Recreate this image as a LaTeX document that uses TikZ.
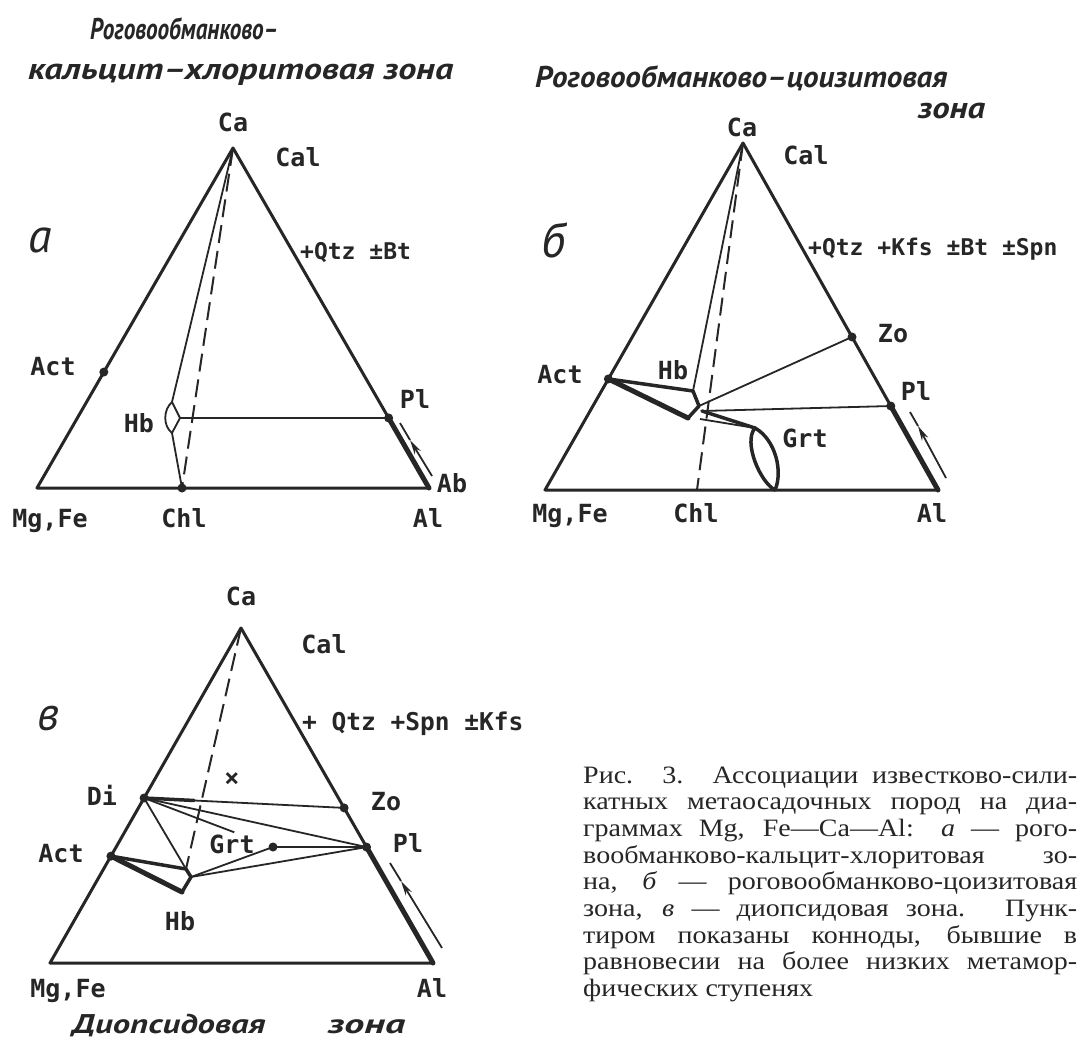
\documentclass[tikz,border=0pt]{standalone}
\usepackage{fontspec}
\setmainfont{Liberation Serif}
\newfontfamily\labfont{DejaVu Sans Mono}
\newfontfamily\titfont{PT Sans}
\newfontfamily\capfont{Liberation Serif}[FakeStretch=1.12]
\usepackage{graphicx}
\usetikzlibrary{calc,arrows.meta}
\definecolor{ink}{HTML}{262626}
\newcommand{\hfit}[2]{\resizebox{#1}{\height}{#2}}
\begin{document}
\begin{tikzpicture}[x=1pt,y=-1pt,color=ink,
  tri/.style={line width=3pt,line join=round},
  tie/.style={line width=1.8pt},
  bold/.style={line width=5pt,line cap=round,line join=round},
  mid/.style={line width=3.5pt,line cap=round,line join=round},
  dashline/.style={line width=2pt,dash pattern=on 18pt off 8pt},
  lab/.style={font=\labfont\bfseries\fontsize{25}{25}\selectfont,inner sep=0pt,anchor=base},
  note/.style={font=\labfont\bfseries\fontsize{23}{23}\selectfont,inner sep=0pt,anchor=base west},
  letter/.style={font=\titfont\itshape\fontsize{48}{48}\selectfont,inner sep=0pt},
  tit/.style={font=\titfont\bfseries\itshape\fontsize{30}{30}\selectfont,inner sep=0pt,anchor=base west},
  titc/.style={font=\titfont\bfseries\itshape\fontsize{27}{27}\selectfont,inner sep=0pt,anchor=base west},
  capline/.style={font=\capfont\fontsize{25}{25}\selectfont,inner sep=0pt,anchor=base west},
  arr/.style={line width=1.8pt,-{Stealth[length=15pt,width=7pt]}}]
\fill[white] (0,0) rectangle (1080,1043);
\useasboundingbox (0,0) rectangle (1080,1043);

% ================= diagram a =================
\coordinate (aCa) at (233,148);
\coordinate (aMg) at (37,488);
\coordinate (aAl) at (429,488);
\coordinate (aAct) at ($(aMg)!0.341!(aCa)$);
\coordinate (aPl) at ($(aAl)!0.206!(aCa)$);
\coordinate (aChl) at (182,488);
\coordinate (aHbT) at (172,402);
\coordinate (aHbB) at (172,433);
\coordinate (aHbR) at (180,418);
\coordinate (aArB) at (432,476);
\coordinate (aArM) at (410,440);
\coordinate (aArT) at (400,423);
\draw[tri] (aMg) -- (aCa) -- (aAl) -- cycle;
\draw[bold] (aPl) -- (aAl);
\draw[dashline] (aCa) -- (aChl);
\draw[tie] (aCa) -- (aHbT);
\draw[tie] (aHbB) -- (aChl);
\draw[tie] (aHbT) .. controls (163,410) and (163,426) .. (aHbB);
\draw[tie,line join=round] (aHbT) -- (aHbR) -- (aHbB);
\draw[tie] (aHbR) -- (aPl);
\draw[arr] (aArB) -- (aArM);
\draw[tie] (aArM) -- (aArT);
\foreach \p in {aAct,aPl,aChl} \fill (\p) circle (4.5pt);
\node[lab] (aLCa) at (233,132) {Ca};
\node[lab] (aLCal) at (298,167) {Cal};
\node[note] (aLadd) at (300,260) {+Qtz ±Bt};
\node[lab] (aLAct) at (53,375) {Act};
\node[lab] (aLPl) at (415,408) {Pl};
\node[lab] (aLHb) at (139,432) {Hb};
\node[lab] (aLAb) at (452,492) {Ab};
\node[lab] (aLMg) at (50,527) {Mg,Fe};
\node[lab] (aLChl) at (184,527) {Chl};
\node[lab] (aLAl) at (428,527) {Al};
\node[letter] (aLet) at (40,240) {а};
\node[tit] (aT1) at (90,40) {\hfit{188pt}{Роговообманково–}};
\node[tit] (aT2) at (28,80) {\hfit{425pt}{кальцит–хлоритовая зона}};

% ================= diagram b =================
\coordinate (bCa) at (743,143);
\coordinate (bMg) at (545,490);
\coordinate (bAl) at (938,490);
\coordinate (bAct) at ($(bMg)!0.32!(bCa)$);
\coordinate (bZo) at ($(bAl)!0.441!(bCa)$);
\coordinate (bPl) at ($(bAl)!0.242!(bCa)$);
\coordinate (bChl) at (697,490);
\coordinate (bHa) at (693,391);
\coordinate (bHb) at (699,406);
\coordinate (bHc) at (688,418);
\coordinate (bHd) at (702,411);
\coordinate (bHe) at (700,419);
\coordinate (bGT) at (755,428);
\coordinate (bGB) at (775,490);
\coordinate (bArB) at (946,478);
\coordinate (bArM) at (918,426);
\coordinate (bArT) at (910,412);
\draw[tri] (bMg) -- (bCa) -- (bAl) -- cycle;
\draw[bold] (bPl) -- (bAl);
\draw[dashline] (bCa) -- (bChl);
\draw[tie] (bCa) -- (bHa);
\draw[tie] (bHb) -- (bZo);
\draw[tie] (bHd) -- (bPl);
\draw[mid] (bHd) -- (bGT);
\draw[tie] (bHe) -- (bGT);
\draw[mid] (bAct) -- (bHa) -- (bHb) -- (bHc) -- cycle;
\draw[bold] (bAct) -- (bHc);
\draw[mid] (bGT) .. controls (743,442) and (760,482) .. (bGB);
\draw[mid] (bGT) .. controls (776,440) and (783,472) .. (bGB);
\draw[arr] (bArB) -- (bArM);
\draw[tie] (bArM) -- (bArT);
\foreach \p in {bAct,bZo,bPl} \fill (\p) circle (4.5pt);
\node[lab] (bLCa) at (742,137) {Ca};
\node[lab] (bLCal) at (806,165) {Cal};
\node[note] (bLadd) at (808,256) {+Qtz +Kfs ±Bt ±Spn};
\node[lab] (bLZo) at (893,343) {Zo};
\node[lab] (bLPl) at (916,400) {Pl};
\node[lab] (bLAct) at (560,383) {Act};
\node[lab] (bLHb) at (673,380) {Hb};
\node[lab] (bLGrt) at (805,447) {Grt};
\node[lab] (bLMg) at (570,522) {Mg,Fe};
\node[lab] (bLChl) at (696,522) {Chl};
\node[lab] (bLAl) at (932,522) {Al};
\node[letter] (bLet) at (553,240) {б};
\node[tit] (bT1) at (535,88) {\hfit{412pt}{Роговообманково–цоизитовая}};
\node[tit] (bT2) at (918,119) {\hfit{67pt}{зона}};

% ================= diagram c =================
\coordinate (cCa) at (241,628);
\coordinate (cMg) at (50,963);
\coordinate (cAl) at (433,963);
\coordinate (cDi) at ($(cMg)!0.4925!(cCa)$);
\coordinate (cAct) at ($(cMg)!0.319!(cCa)$);
\coordinate (cZo) at ($(cAl)!0.463!(cCa)$);
\coordinate (cPl) at ($(cAl)!0.346!(cCa)$);
\coordinate (cGrt) at (273,847);
\coordinate (cHa) at (186,869);
\coordinate (cHb) at (191,877);
\coordinate (cHc) at (182,892);
\coordinate (cDG) at ($(cDi)!0.7!(cGrt)$);
\coordinate (cArB) at (442,948);
\coordinate (cArM) at (401,881);
\coordinate (cArT) at (390,863);
\draw[tri] (cMg) -- (cCa) -- (cAl) -- cycle;
\draw[bold] (cPl) -- (cAl);
\draw[dashline] (cCa) -- (cHa);
\draw[mid] (cDi) -- ($(cDi)!0.25!(cZo)$);
\draw[tie] (cDi) -- (cZo);
\draw[tie] (cDi) -- (cPl);
\draw[tie] (cDi) -- (cDG);
\draw[tie] (cDi) -- (cHa);
\draw[tie] (cHb) -- (cGrt);
\draw[tie] (cHb) -- (cPl);
\draw[tie] (cGrt) -- (cPl);
\draw[mid] (cAct) -- (cHa) -- (cHb) -- (cHc);
\draw[bold] (cAct) -- (cHc);
\draw[arr] (cArB) -- (cArM);
\draw[tie] (cArM) -- (cArT);
\foreach \p in {cDi,cAct,cZo,cPl,cGrt} \fill (\p) circle (4.5pt);
\node[lab] (cLCa) at (241,605) {Ca};
\node[lab] (cLCal) at (324,653) {Cal};
\node[note,font=\labfont\bfseries\fontsize{24.5}{25}\selectfont] (cLadd) at (302,730) {+ Qtz +Spn ±Kfs};
\node[lab] (cLx) at (232,786) {×};
\node[lab] (cLDi) at (102,805) {Di};
\node[lab] (cLZo) at (386,810) {Zo};
\node[lab] (cLPl) at (408,852) {Pl};
\node[lab] (cLAct) at (61,862) {Act};
\node[lab] (cLGrt) at (232,853) {Grt};
\node[lab] (cLHb) at (180,930) {Hb};
\node[lab] (cLMg) at (68,997) {Mg,Fe};
\node[lab] (cLAl) at (432,997) {Al};
\node[letter] (cLet) at (48,718) {в};
\node[titc] (cT1) at (72,1033) {\hfit{193pt}{Диопсидовая}};
\node[titc] (cT2) at (328,1033) {\hfit{77pt}{зона}};

% ================= caption =================
\node[capline] (cap1) at (583,783.0) {\makebox[494pt][s]{Рис. 3. Ассоциации известково-сили-}};
\node[capline] (cap2) at (583,809.7) {\makebox[494pt][s]{катных метаосадочных пород на диа-}};
\node[capline] (cap3) at (583,836.4) {\makebox[494pt][s]{граммах Mg, Fe—Ca—Al: \textit{а} — рого-}};
\node[capline] (cap4) at (583,863.1) {\makebox[494pt][s]{вообманково-кальцит-хлоритовая  зо-}};
\node[capline] (cap5) at (583,889.8) {\makebox[494pt][s]{на, \textit{б} — роговообманково-цоизитовая}};
\node[capline] (cap6) at (583,916.5) {\makebox[494pt][s]{зона, \textit{в} — диопсидовая зона. Пунк-}};
\node[capline] (cap7) at (583,943.2) {\makebox[494pt][s]{тиром показаны конноды, бывшие в}};
\node[capline] (cap8) at (583,969.9) {\makebox[494pt][s]{равновесии на более низких метамор-}};
\node[capline] (cap9) at (583,996.6) {фических ступенях};
\end{tikzpicture}
\end{document}
